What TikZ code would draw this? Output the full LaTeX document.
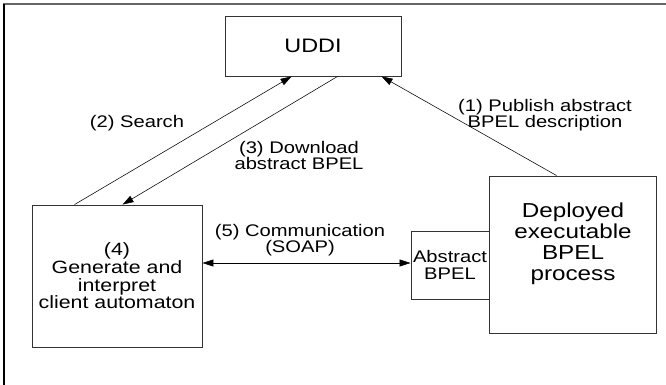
\documentclass[tikz,border=0pt]{standalone}
\usepackage{fontspec}
\setmainfont{Liberation Sans}[FakeStretch=1.2]
\usetikzlibrary{arrows.meta}
\tikzset{
  box/.style={draw=black!80, line width=0.9pt, inner sep=0pt},
  txt/.style={align=center, inner sep=0pt, text=black},
  lab/.style={align=center, inner sep=0pt, text=black, font=\fontsize{16.8}{16}\selectfont},
  conn/.style={draw=black, line width=0.55pt},
  tip/.style={-{Triangle[length=11pt,width=7pt]}},
}
\begin{document}
\begin{tikzpicture}[x=1pt,y=-1pt]
\useasboundingbox (0,0) rectangle (666,385);
% outer frame
\draw[line width=1.5pt, black!60] (3,4) -- (666,4);
\draw[line width=1.5pt, black] (4,4) -- (4,385);
% boxes
\node[box, minimum width=176pt, minimum height=60pt] (uddi) at (313,46) {};
\node[txt, font=\fontsize{19.5}{20}\selectfont] (uddit) at (313,46) {UDDI};
\node[box, minimum width=170pt, minimum height=142pt] (client) at (117,276) {};
\node[txt, font=\fontsize{17.8}{17.7}\selectfont] (clientt) at (117,276) {(4)\\Generate and\\interpret\\client automaton};
\node[box, minimum width=78pt, minimum height=68pt] (abs) at (450,265) {};
\node[txt, font=\fontsize{16.8}{16.5}\selectfont] (abst) at (450,265) {Abstract\\BPEL};
\node[box, minimum width=167pt, minimum height=157pt] (dep) at (572.5,254.5) {};
\node[txt, font=\fontsize{20.2}{21}\selectfont] (dept) at (573,244) {Deployed\\executable\\BPEL\\process};
% connectors
\draw[conn, tip] ([xshift=68pt]dep.north west) -- ([xshift=157pt]uddi.south west);
\draw[conn, tip] ([xshift=43pt]client.north west) -- ([xshift=67pt]uddi.south west);
\draw[conn, tip] ([xshift=113pt]uddi.south west) -- ([xshift=91pt]client.north west);
\draw[conn, {Triangle[length=11pt,width=7pt]}-{Triangle[length=11pt,width=7pt]}] ([yshift=13pt]client.east) -- ([yshift=2pt]abs.west);
% labels
\node[lab] (l1) at (545,115) {(1) Publish abstract\\BPEL description};
\node[lab] (l2) at (137,123) {(2) Search};
\node[lab] (l3) at (299,155) {(3) Download\\abstract BPEL};
\node[lab] (l5) at (300,240) {(5) Communication\\(SOAP)};
\end{tikzpicture}
\end{document}
